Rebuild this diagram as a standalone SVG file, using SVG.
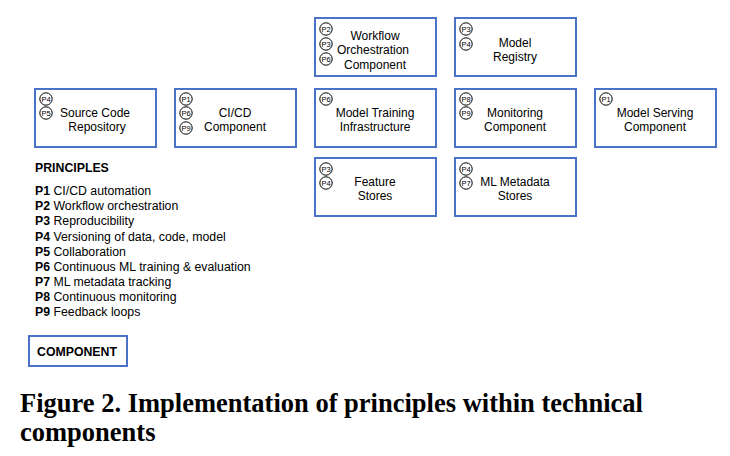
<svg xmlns="http://www.w3.org/2000/svg" width="730" height="456" viewBox="0 0 730 456">
<style>
.box{fill:#fff;stroke:#4a72c9;stroke-width:2}
.lbl{font-family:"Liberation Sans",Arial,sans-serif;font-size:12px;fill:#000;text-anchor:middle}
.pc{fill:#fff;stroke:#000;stroke-width:1}
.pt{font-family:"Liberation Sans",Arial,sans-serif;font-size:7.5px;fill:#000;text-anchor:middle}
.leg{font-family:"Liberation Sans",Arial,sans-serif;font-size:12.3px;fill:#000}
.b{font-weight:bold}
.cap{font-family:"Liberation Serif","Times New Roman",serif;font-size:26.5px;font-weight:bold;fill:#000}
</style>
<rect width="730" height="456" fill="#fff"/>
<g id="connectors"></g>

<g id="workflow">
<rect class="box" x="315" y="18" width="121" height="58"/>
<circle class="pc" cx="326" cy="29" r="6.2"/><text class="pt" x="326" y="31.7">P2</text>
<circle class="pc" cx="326" cy="44" r="6.2"/><text class="pt" x="326" y="46.7">P3</text>
<circle class="pc" cx="326" cy="59" r="6.2"/><text class="pt" x="326" y="61.7">P6</text>
<text class="lbl" x="375" y="40">Workflow</text>
<text class="lbl" x="373" y="54">Orchestration</text>
<text class="lbl" x="375" y="69">Component</text>
</g>

<g id="registry">
<rect class="box" x="455" y="18" width="121" height="58"/>
<circle class="pc" cx="466" cy="29" r="6.2"/><text class="pt" x="466" y="31.7">P3</text>
<circle class="pc" cx="466" cy="44" r="6.2"/><text class="pt" x="466" y="46.7">P4</text>
<text class="lbl" x="515" y="47">Model</text>
<text class="lbl" x="515" y="61">Registry</text>
</g>

<g id="source">
<rect class="box" x="35" y="89" width="121" height="58"/>
<circle class="pc" cx="46" cy="99" r="6.2"/><text class="pt" x="46" y="101.7">P4</text>
<circle class="pc" cx="46" cy="113" r="6.2"/><text class="pt" x="46" y="115.7">P5</text>
<text class="lbl" x="95" y="117">Source Code</text>
<text class="lbl" x="97" y="131">Repository</text>
</g>

<g id="cicd">
<rect class="box" x="175" y="89" width="121" height="58"/>
<circle class="pc" cx="186" cy="99" r="6.2"/><text class="pt" x="186" y="101.7">P1</text>
<circle class="pc" cx="186" cy="113" r="6.2"/><text class="pt" x="186" y="115.7">P6</text>
<circle class="pc" cx="186" cy="128" r="6.2"/><text class="pt" x="186" y="130.7">P9</text>
<text class="lbl" x="235" y="117">CI/CD</text>
<text class="lbl" x="235" y="131">Component</text>
</g>

<g id="training">
<rect class="box" x="315" y="89" width="121" height="58"/>
<circle class="pc" cx="326" cy="99" r="6.2"/><text class="pt" x="326" y="101.7">P6</text>
<text class="lbl" x="375" y="117">Model Training</text>
<text class="lbl" x="375" y="131">Infrastructure</text>
</g>

<g id="monitoring">
<rect class="box" x="455" y="89" width="121" height="58"/>
<circle class="pc" cx="466" cy="99" r="6.2"/><text class="pt" x="466" y="101.7">P8</text>
<circle class="pc" cx="466" cy="113" r="6.2"/><text class="pt" x="466" y="115.7">P9</text>
<text class="lbl" x="515" y="117">Monitoring</text>
<text class="lbl" x="515" y="131">Component</text>
</g>

<g id="serving">
<rect class="box" x="595" y="89" width="121" height="58"/>
<circle class="pc" cx="606" cy="99" r="6.2"/><text class="pt" x="606" y="101.7">P1</text>
<text class="lbl" x="655" y="117">Model Serving</text>
<text class="lbl" x="655" y="131">Component</text>
</g>

<g id="feature">
<rect class="box" x="315" y="158" width="121" height="58"/>
<circle class="pc" cx="326" cy="169" r="6.2"/><text class="pt" x="326" y="171.7">P3</text>
<circle class="pc" cx="326" cy="183" r="6.2"/><text class="pt" x="326" y="185.7">P4</text>
<text class="lbl" x="375" y="186">Feature</text>
<text class="lbl" x="375" y="200">Stores</text>
</g>

<g id="metadata">
<rect class="box" x="455" y="158" width="121" height="58"/>
<circle class="pc" cx="466" cy="169" r="6.2"/><text class="pt" x="466" y="171.7">P4</text>
<circle class="pc" cx="466" cy="183" r="6.2"/><text class="pt" x="466" y="185.7">P7</text>
<text class="lbl" x="515" y="186">ML Metadata</text>
<text class="lbl" x="515" y="200">Stores</text>
</g>

<g id="principles">
<text class="leg b" x="35" y="172">PRINCIPLES</text>
<text class="leg" x="35" y="195"><tspan class="b">P1</tspan> CI/CD automation</text>
<text class="leg" x="35" y="210"><tspan class="b">P2</tspan> Workflow orchestration</text>
<text class="leg" x="35" y="225"><tspan class="b">P3</tspan> Reproducibility</text>
<text class="leg" x="35" y="241"><tspan class="b">P4</tspan> Versioning of data, code, model</text>
<text class="leg" x="35" y="256"><tspan class="b">P5</tspan> Collaboration</text>
<text class="leg" x="35" y="271"><tspan class="b">P6</tspan> Continuous ML training &amp; evaluation</text>
<text class="leg" x="35" y="286"><tspan class="b">P7</tspan> ML metadata tracking</text>
<text class="leg" x="35" y="301"><tspan class="b">P8</tspan> Continuous monitoring</text>
<text class="leg" x="35" y="316"><tspan class="b">P9</tspan> Feedback loops</text>
</g>

<g id="legend">
<rect class="box" x="29" y="336" width="98" height="30"/>
<text class="leg b" x="37" y="356">COMPONENT</text>
</g>

<g id="caption">
<text class="cap" x="20" y="412">Figure 2. Implementation of principles within technical</text>
<text class="cap" x="20" y="441">components</text>
</g>
</svg>
